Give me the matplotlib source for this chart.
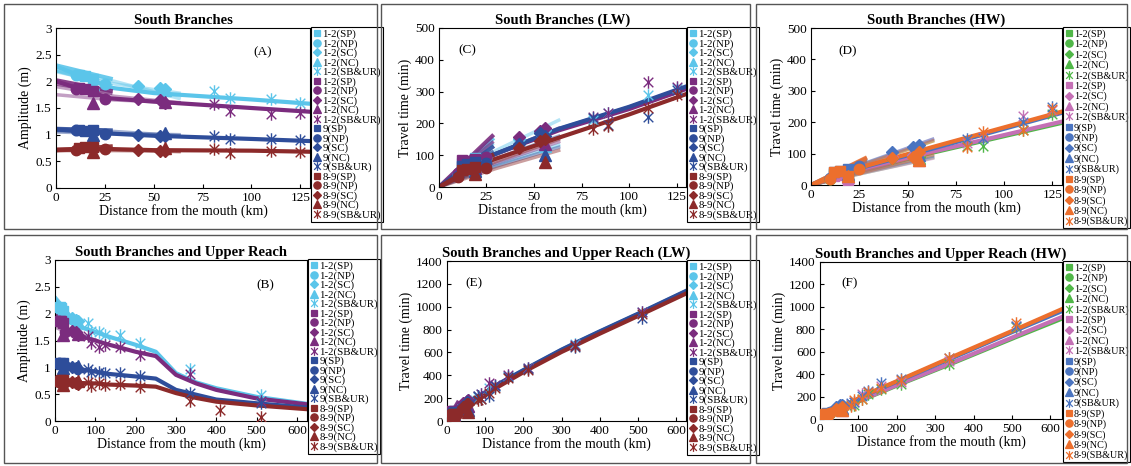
import numpy as np
import matplotlib
matplotlib.use("Agg")
import matplotlib.pyplot as plt
from matplotlib.path import Path
from matplotlib.patches import Rectangle
from matplotlib.lines import Line2D
from matplotlib.ticker import FormatStrFormatter

plt.rcParams['font.family'] = ['Liberation Serif', 'DejaVu Serif']

nan = np.nan
GROUPS = ['1-2', '1-2', '9', '8-9']
BRANCHES = ['SP', 'NP', 'SC', 'NC', 'SB&UR']
COL_LW = ['#5BC5EA', '#7B2C7E', '#2E4D9A', '#8C2A2A']
COL_HW = ['#50B748', '#C470B5', '#4A74C0', '#EC6F2D']

# station distances from the mouth (km)
SP_KM = [12, 15, 19]
NP_KM = [10, 25]
SC_KM = [42, 53, 56]
NC_KM = [19, 56]
ST_KM = [81, 89, 110, 125, 160, 212, 335, 410, 510]
SHORT_KM = [0, 28]
MID_KM = [0, 30, 63]

# ---- amplitude (m), rows = 1-2, 1-2, 9, 8-9
AMP_LONG_KM = [0, 28, 50, 100, 130, 200, 250, 300, 350, 400, 500, 625]
AMP_LONG = [[2.28, 1.88, 1.78, 1.66, 1.58, 1.42, 1.29, 0.89, 0.72, 0.61, 0.45, 0.32],
            [2.00, 1.68, 1.62, 1.50, 1.43, 1.29, 1.21, 0.86, 0.70, 0.58, 0.42, 0.31],
            [1.10, 1.02, 0.98, 0.92, 0.88, 0.83, 0.79, 0.58, 0.49, 0.40, 0.33, 0.25],
            [0.72, 0.73, 0.71, 0.70, 0.68, 0.66, 0.64, 0.52, 0.43, 0.36, 0.29, 0.22]]
AMP_SP_LINE = [[2.30, 2.05], [2.02, 1.82], [1.11, 1.08], [0.71, 0.78]]
AMP_NP_LINE = [[2.20, 1.92], [1.95, 1.78], [1.08, 1.05], [0.70, 0.74]]
AMP_SC_LINE = [[2.20, 2.00, 1.68], [1.90, 1.72, 1.60], [1.08, 1.06, 0.98], [0.72, 0.72, 0.68]]
AMP_NC_LINE = [[2.18, 1.95, 1.78], [1.75, 1.65, 1.60], [1.05, 1.02, 1.00], [0.70, 0.70, 0.69]]
AMP_SP = [[2.12, 2.10, 2.05], [1.87, 1.86, 1.82], [1.08, 1.07, 1.08], [0.75, 0.76, 0.77]]
AMP_NP = [[2.12, 1.95], [1.86, 1.66], [1.09, 1.02], [0.72, 0.73]]
AMP_SC = [[1.92, 1.88, 1.86], [1.67, 1.65, 1.60], [1.00, 0.98, 0.97], [0.72, 0.70, 0.69]]
AMP_NC = [[1.95, 1.84], [1.60, 1.62], [0.99, 1.03], [0.68, 0.75]]
AMP_ST = [[1.82, 1.68, 1.66, 1.60, 1.60, 1.46, 0.96, nan, 0.49],
          [1.58, 1.45, 1.38, 1.41, 1.37, 1.23, 0.87, nan, 0.38],
          [0.97, 0.91, 0.91, 0.90, 0.89, 0.83, 0.52, nan, 0.33],
          [0.73, 0.65, 0.70, 0.67, 0.69, 0.63, 0.38, 0.21, 0.07]]

# ---- travel time of low water (min)
LW_LONG_KM = [0, 28, 63, 100, 130, 160, 212, 300, 335, 400, 510, 625]
LW_LONG = [[0, 100, 182, 250, 313, 370, 465, 622, 680, 782, 952, 1135],
           [0, 100, 178, 245, 308, 365, 460, 618, 675, 778, 948, 1130],
           [0, 100, 183, 252, 316, 372, 468, 625, 682, 785, 955, 1138],
           [0, 85, 155, 228, 292, 350, 450, 605, 660, 765, 935, 1115]]
LW_SP_LINE = [[0, 150], [0, 160], [0, 125], [0, 100]]
LW_NP_LINE = [[0, 135], [0, 140], [0, 110], [0, 90]]
LW_SC_LINE = [[0, 115, 210], [0, 105, 185], [0, 90, 160], [0, 80, 150]]
LW_NC_LINE = [[0, 70, 132], [0, 75, 142], [0, 65, 125], [0, 58, 115]]
LW_SP = [[75, 80, 90], [85, 82, 88], [65, 72, 78], [55, 58, 62]]
LW_NP = [[40, 90], [45, 95], [35, 75], [30, 60]]
LW_SC = [[150, 170, 180], [158, 175, 185], [135, 170, 160], [122, 145, 152]]
LW_NC = [[55, 130], [60, 135], [50, 100], [40, 78]]
LW_ST = [[210, 232, 289, 310, 390, 460, 670, nan, 950],
         [220, 233, 330, 315, 400, 465, 665, nan, 955],
         [217, 195, 220, 305, 385, 455, 650, nan, 900],
         [182, 192, 248, 289, 380, 450, 660, nan, 940]]

# ---- travel time of high water (min)
HW_LONG_KM = [0, 28, 63, 130, 212, 335, 510, 630]
HW_LONG = [[0, 48, 103, 198, 315, 483, 730, 895],
           [0, 50, 106, 202, 320, 490, 740, 910],
           [0, 58, 116, 230, 350, 530, 790, 962],
           [0, 60, 121, 234, 355, 540, 800, 980]]
HW_SP_LINE = [[0, 68], [0, 65], [0, 82], [0, 85]]
HW_NP_LINE = [[0, 60], [0, 60], [0, 75], [0, 78]]
HW_SC_LINE = [[0, 72, 140], [0, 73, 145], [0, 74, 146], [0, 70, 140]]
HW_NC_LINE = [[0, 42, 87], [0, 42, 85], [0, 45, 92], [0, 45, 96]]
HW_SP = [[35, 40, 30], [30, 32, 16], [40, 45, 50], [42, 44, 30]]
HW_NP = [[20, 55], [nan, nan], [22, 60], [18, 50]]
HW_SC = [[85, 95, 90], [90, 95, 100], [106, 122, 127], [85, 90, 105]]
HW_NC = [[30, 85], [25, 80], [35, 95], [28, 80]]
HW_ST = [[125, 125, 175, 226, 270, 315, 490, nan, 820],
         [135, 153, 220, 240, 290, 330, 520, nan, 830],
         [146, 150, 202, 249, 320, 355, 545, nan, 830],
         [120, 170, 175, 241, 280, 350, 540, nan, 860]]

STAR = Path([(-1, -1), (1, 1), (-1, 1), (1, -1), (0, -1.3), (0, 1.3)],
            [Path.MOVETO, Path.LINETO, Path.MOVETO, Path.LINETO, Path.MOVETO, Path.LINETO])
MARKERS = ['s', 'o', 'D', '^', STAR]
MSIZE = [7, 7.5, 6, 8.5, 9]


def draw(ax, d, colors, xmax, ymax, ystep, title, letter, letter_xy, xticks):
    long_km, long_v, sp_l, np_l, sc_l, nc_l, obs = d
    obs_km = [SP_KM, NP_KM, SC_KM, NC_KM, ST_KM]
    for g in range(4):
        c = colors[g]
        ax.plot(long_km, long_v[g], color=c, lw=3, zorder=2)
        ax.plot(MID_KM, sc_l[g], color=c, lw=2.5, alpha=0.45, zorder=2)
        ax.plot(MID_KM, nc_l[g], color=c, lw=2.5, alpha=0.45, zorder=2)
        ax.plot(SHORT_KM, sp_l[g], color=c, lw=3, alpha=0.9, zorder=2)
        ax.plot(SHORT_KM, np_l[g], color=c, lw=2.5, alpha=0.7, zorder=2)
    handles = []
    for g in range(4):
        c = colors[g]
        for b in range(5):
            vals = obs[b][g]
            if np.all(np.isnan(vals)):
                continue
            m = MARKERS[b]
            ax.plot(obs_km[b], vals, ls='none', marker=m, ms=MSIZE[b], color=c,
                    mfc=c if b < 4 else 'none', mew=1.0, zorder=3)
            handles.append(Line2D([], [], ls='none', marker=m, ms=MSIZE[b] * 0.7, color=c,
                                  mfc=c if b < 4 else 'none', mew=0.9,
                                  label=GROUPS[g] + '(' + BRANCHES[b] + ')'))
    ax.set_xlim(0, xmax)
    ax.set_ylim(0, ymax)
    ax.set_xticks(xticks)
    ax.set_yticks(np.arange(0, ymax + ystep / 2, ystep))
    ax.yaxis.set_major_formatter(FormatStrFormatter('%g'))
    ax.tick_params(direction='in', length=3, labelsize=9.5, pad=3)
    for s in ax.spines.values():
        s.set_linewidth(0.8)
    ax.set_xlabel('Distance from the mouth (km)', fontsize=10, labelpad=0)
    ax.set_title(title, fontsize=10.5, fontweight='bold', pad=3)
    ax.text(letter_xy[0], letter_xy[1], letter, fontsize=9.5, ha='center', va='center')
    if len(handles) == 20:
        sp, fs = -0.03, 7.8
    else:
        sp, fs = 0.08, 7.3
    leg = ax.legend(handles=handles, loc='upper left', bbox_to_anchor=(1.004, 1.005),
                    borderaxespad=0, fontsize=fs, handlelength=0.7, handletextpad=0.15,
                    borderpad=0.2, labelspacing=sp, fancybox=False, framealpha=1,
                    edgecolor='black')
    leg.get_frame().set_linewidth(0.8)


W, H = 1131, 466
fig = plt.figure(figsize=(W / 100, H / 100), dpi=100)


def box(l, r, t, b):
    return [l / W, (H - b) / H, (r - l) / W, (b - t) / H]


for (l, r, t, b) in [(4, 377, 4, 229), (381, 750, 4, 229), (756, 1127, 4, 229),
                     (4, 377, 235, 463), (381, 750, 235, 463), (756, 1127, 235, 463)]:
    fig.add_artist(Rectangle((l / W, (H - b) / H), (r - l) / W, (b - t) / H,
                             transform=fig.transFigure, fill=False, ec='#555555', lw=1))

amp = (AMP_LONG_KM, AMP_LONG, AMP_SP_LINE, AMP_NP_LINE, AMP_SC_LINE, AMP_NC_LINE,
       [AMP_SP, AMP_NP, AMP_SC, AMP_NC, AMP_ST])
lw = (LW_LONG_KM, LW_LONG, LW_SP_LINE, LW_NP_LINE, LW_SC_LINE, LW_NC_LINE,
      [LW_SP, LW_NP, LW_SC, LW_NC, LW_ST])
hw = (HW_LONG_KM, HW_LONG, HW_SP_LINE, HW_NP_LINE, HW_SC_LINE, HW_NC_LINE,
      [HW_SP, HW_NP, HW_SC, HW_NC, HW_ST])

axA = fig.add_axes(box(56, 310, 28, 188))
draw(axA, amp, COL_LW, 130, 3, 0.5, 'South Branches', '(A)', (106, 2.54), range(0, 130, 25))
axA.set_ylabel('Amplitude (m)', fontsize=10, labelpad=2)

axC = fig.add_axes(box(439, 686, 28, 187))
draw(axC, lw, COL_LW, 130, 500, 100, 'South Branches (LW)', '(C)', (15, 431), range(0, 130, 25))
axC.set_ylabel('Travel time (min)', fontsize=10, labelpad=2)

axD = fig.add_axes(box(811, 1062, 28, 185))
draw(axD, hw, COL_HW, 130, 500, 100, 'South Branches (HW)', '(D)', (19, 427), range(0, 130, 25))
axD.set_ylabel('Travel time (min)', fontsize=10, labelpad=2)

axB = fig.add_axes(box(55, 307, 260, 421))
draw(axB, amp, COL_LW, 625, 3, 0.5, 'South Branches and Upper Reach', '(B)', (521, 2.53),
     range(0, 625, 100))
axB.set_ylabel('Amplitude (m)', fontsize=10, labelpad=2)

axE = fig.add_axes(box(447, 686, 261, 421))
draw(axE, lw, COL_LW, 625, 1400, 200, 'South Branches and Upper Reach (LW)', '(E)', (71, 1207),
     range(0, 625, 100))
axE.set_ylabel('Travel time (min)', fontsize=10, labelpad=2)

axF = fig.add_axes(box(820, 1062, 262, 419))
draw(axF, hw, COL_HW, 630, 1400, 200, 'South Branches and Upper Reach (HW)', '(F)', (78, 1213),
     range(0, 625, 100))
axF.set_ylabel('Travel time (min)', fontsize=10, labelpad=2)

fig.savefig('out.png', dpi=100)
